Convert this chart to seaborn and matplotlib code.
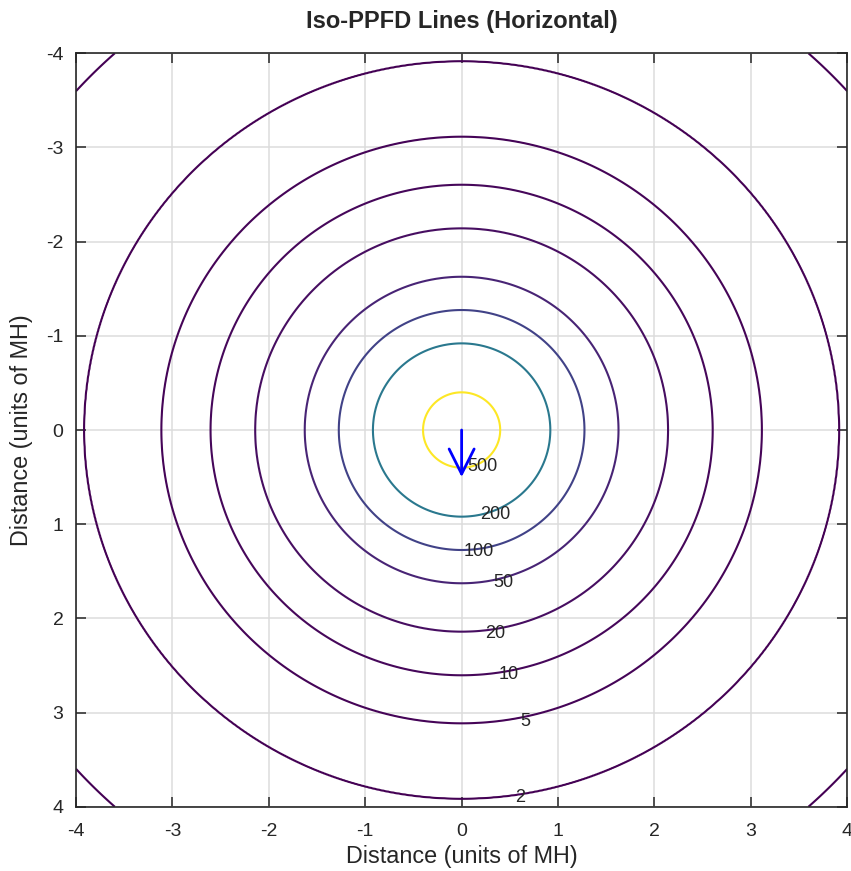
import numpy as np
import matplotlib
matplotlib.use("Agg")
import matplotlib.pyplot as plt
import seaborn as sns

# PPFD contour levels and the radius (units of MH) where each circle sits
ppfd_levels = [1, 2, 5, 10, 20, 50, 100, 200, 500]
ppfd_radii = [5.38, 3.914, 3.114, 2.604, 2.141, 1.627, 1.274, 0.92, 0.40]

# where the contour labels are written (1 has no label)
label_text = ["500", "200", "100", "50", "20", "10", "5", "2"]
label_x = [0.221, 0.345, 0.181, 0.43, 0.345, 0.49, 0.657, 0.605]
label_y = [0.39, 0.895, 1.285, 1.614, 2.156, 2.60, 3.09, 3.90]

# fixture direction arrow
arrow_x, arrow_y = [0.0], [0.0]
arrow_u, arrow_v = [0.0], [0.5]

ticks = [-4, -3, -2, -1, 0, 1, 2, 3, 4]

sns.set_style("ticks")
plt.rcParams['font.family'] = ['Liberation Sans', 'DejaVu Sans']

# radial field built from the read radii (log PPFD vs distance)
r_pts = np.array(ppfd_radii[::-1])
logv = np.log10(ppfd_levels[::-1])
slope_in = (logv[1] - logv[0]) / (r_pts[1] - r_pts[0])
slope_out = (logv[-1] - logv[-2]) / (r_pts[-1] - r_pts[-2])
r_ext = np.concatenate([[0.0], r_pts, [8.0]])
logv_ext = np.concatenate([[logv[0] - slope_in * r_pts[0]], logv,
                           [logv[-1] + slope_out * (8.0 - r_pts[-1])]])

g = np.linspace(-4, 4, 801)
X, Y = np.meshgrid(g, g)
R = np.hypot(X, Y)
Z = 10 ** np.interp(R, r_ext, logv_ext)

fig = plt.figure(figsize=(8.51, 8.71), dpi=100)
ax = fig.add_axes([0.0893, 0.0738, 0.9063, 0.865])

norm = matplotlib.colors.Normalize(vmin=min(ppfd_levels), vmax=max(ppfd_levels))
ax.contour(X, Y, Z, levels=ppfd_levels, cmap="viridis", norm=norm, linewidths=1.5)

for t, lx, ly in zip(label_text, label_x, label_y):
    ax.text(lx, ly, t, fontsize=13, color="#262626", ha="center", va="center")

for x0, y0, u, v in zip(arrow_x, arrow_y, arrow_u, arrow_v):
    ax.annotate("", xy=(x0 + u, y0 + v), xytext=(x0, y0),
                arrowprops=dict(arrowstyle="->,head_length=0.9,head_width=0.45",
                                color="blue", lw=2, mutation_scale=20,
                                shrinkA=0, shrinkB=0))

ax.set_xlim(-4, 4)
ax.set_ylim(4, -4)
ax.set_xticks(ticks)
ax.set_yticks(ticks)
ax.set_xticklabels([str(t) for t in ticks])
ax.set_yticklabels([str(t) for t in ticks])
ax.grid(True, color="#dcdcdc", linewidth=1.1)
ax.set_axisbelow(True)
ax.tick_params(direction="in", length=7, width=1.1, colors="#262626",
               labelsize=14, top=True, right=True)
ax.tick_params(axis="x", pad=12)
ax.tick_params(axis="y", pad=9)
for s in ax.spines.values():
    s.set_color("#262626")
    s.set_linewidth(1.2)

ax.set_xlabel("Distance (units of MH)", fontsize=16.8, color="#262626", labelpad=3)
ax.set_ylabel("Distance (units of MH)", fontsize=16.8, color="#262626", labelpad=9)
ax.set_title("Iso-PPFD Lines (Horizontal)", fontsize=17, fontweight="bold", pad=18)

fig.savefig("out.png", dpi=100)
